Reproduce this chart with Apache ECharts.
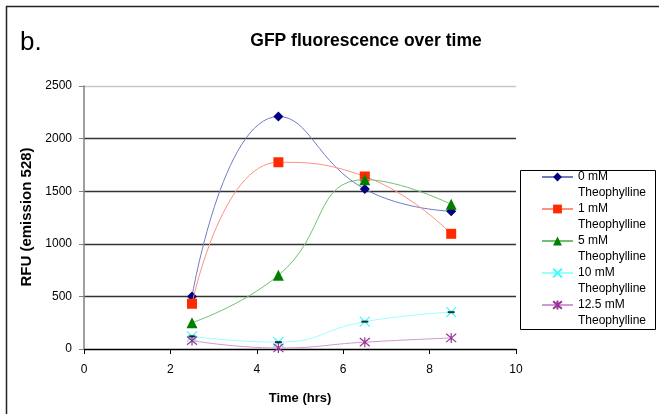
<!DOCTYPE html>
<html><head><meta charset="utf-8">
<script src="https://cdn.jsdelivr.net/npm/echarts@6/dist/echarts.min.js"></script>
<style>html,body{margin:0;padding:0;background:#fff}#c{width:659px;height:414px}</style>
</head><body><div id="c"></div>
<script>
var times = [2.5, 4.5, 6.5, 8.5];
var seriesNames = ['0 mM\nTheophylline','1 mM\nTheophylline','5 mM\nTheophylline','10 mM\nTheophylline','12.5 mM\nTheophylline'];
var v0 = [500, 2210, 1520, 1310];
var v1 = [430, 1775, 1640, 1095];
var v5 = [250, 700, 1610, 1375];
var v10 = [120, 65, 260, 350];
var v125 = [80, 10, 65, 105];
var xTicks = [0, 2, 4, 6, 8, 10];
var yTicks = [0, 500, 1000, 1500, 2000, 2500];

function pts(v){ return times.map(function(t,i){ return [t, v[i]]; }); }
var symbols = ['diamond','rect','triangle','path://M0,0L10,10M10,0L0,10','path://M0,0L10,10M10,0L0,10M5,-1L5,11'];
var colors = ['#000080','#ff2a00','#008000','#33ffff','#993399'];
var lineColors = ['#6f7cc4','#ff9080','#70c070','#99ffff','#d099d0'];
var sizes = [10,10,11,10,10];
var vals = [v0,v1,v5,v10,v125];

var series = vals.map(function(v,i){
  var isStroke = i >= 3;
  return {
    name: seriesNames[i], type: 'line', smooth: 0.5, data: pts(v),
    symbol: symbols[i], symbolSize: sizes[i],
    lineStyle: {color: lineColors[i], width: 1},
    itemStyle: isStroke ? {color: 'rgba(0,0,0,0)', borderColor: colors[i], borderWidth: 1.2} : {color: colors[i]},
    emphasis: {disabled: true}, z: 3 + i
  };
});
series.push({
  name: 'caps', type: 'scatter', data: pts(v10), symbol: 'rect', symbolSize: [7,2],
  itemStyle: {color: '#000'}, z: 10, silent: true
});

var chart = echarts.init(document.getElementById('c'));
chart.setOption({
  animation: false,
  textStyle: {fontFamily: 'Liberation Sans, Arial, sans-serif'},
  title: {text: 'GFP fluorescence over time', left: 361, textAlign: 'center', top: 27,
    textStyle: {fontSize: 17.5, fontWeight: 'bold', color: '#000', fontFamily: 'Liberation Sans, Arial'}},
  graphic: [
    {type: 'line', shape: {x1: 6, y1: 6.5, x2: 659, y2: 6.5}, style: {stroke: '#222', lineWidth: 1.5}, silent: true},
    {type: 'line', shape: {x1: 6.5, y1: 6, x2: 6.5, y2: 414}, style: {stroke: '#222', lineWidth: 1.5}, silent: true},
    {type: 'rect', shape: {x: 520.5, y: 170.5, width: 135, height: 159}, style: {fill: '#fff', stroke: '#000', lineWidth: 1}, z: 1, silent: true},
    {type: 'text', left: 20, top: 30, style: {text: 'b.', fontSize: 26, fill: '#000', fontFamily: 'Liberation Sans, Arial'}},
    {type: 'text', x: 27, y: 217, rotation: Math.PI/2, style: {text: 'RFU (emission 528)', fontSize: 15, fontWeight: 'bold', fill: '#000', align: 'center', verticalAlign: 'middle', fontFamily: 'Liberation Sans, Arial'}, silent: true}
  ],
  grid: {left: 84, right: 143, top: 86, bottom: 65},
  legend: {
    orient: 'vertical', left: 520, top: 153, z: 20,
    data: seriesNames,
    formatter: function(n){ return ' \n' + n; },
    padding: [0, 9, 0, 21], itemGap: -16, itemWidth: 31, itemHeight: 11,
    textStyle: {fontSize: 12, color: '#000', lineHeight: 16, fontFamily: 'Liberation Sans, Arial'}
  },
  xAxis: {
    type: 'value', min: xTicks[0], max: xTicks[xTicks.length-1], interval: 2,
    name: 'Time (hrs)', nameLocation: 'middle', nameGap: 43,
    nameTextStyle: {fontSize: 13, fontWeight: 'bold', color: '#000'},
    axisLine: {lineStyle: {color: '#000'}},
    axisTick: {show: true, inside: false, length: 5, lineStyle: {color: '#000'}},
    axisLabel: {fontSize: 12, color: '#000', margin: 15},
    splitLine: {show: false}
  },
  yAxis: {
    type: 'value', min: yTicks[0], max: yTicks[yTicks.length-1], interval: 500,
    axisLine: {show: true, lineStyle: {color: '#808080', width: 1.5}},
    axisTick: {show: true, length: 5, lineStyle: {color: '#808080'}},
    axisLabel: {fontSize: 12, color: '#000', margin: 12, formatter: function(v){ return String(v); }},
    splitLine: {show: true, lineStyle: {color: ['#000','#333','#333','#333','#333','#c8c8c8'], width: 1.3}}
  },
  series: series
});
</script></body></html>
